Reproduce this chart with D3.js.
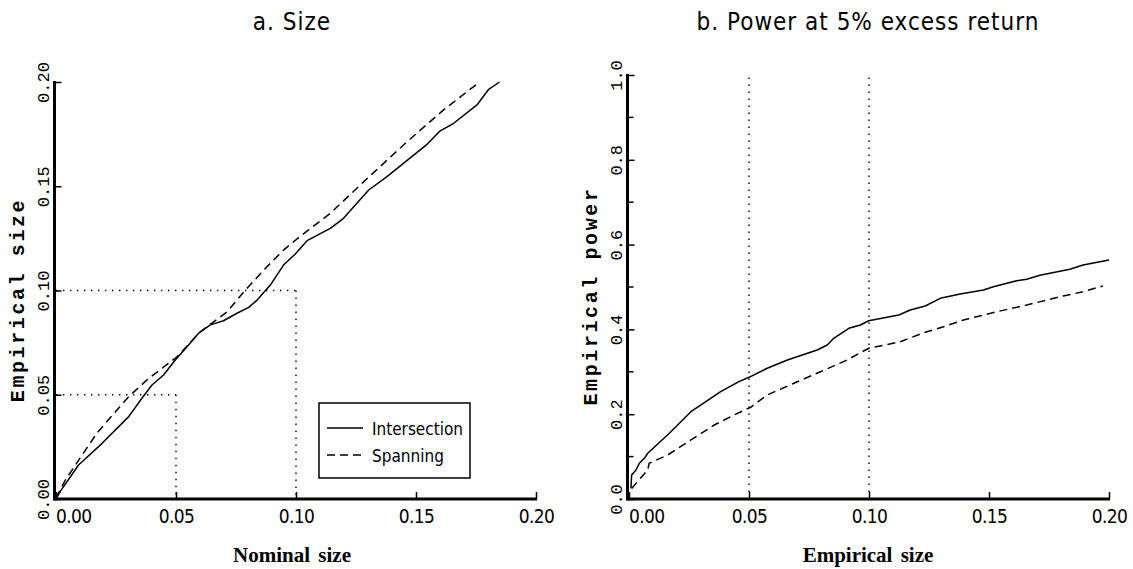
<!DOCTYPE html>
<html>
<head>
<meta charset="utf-8">
<script src="https://cdn.jsdelivr.net/npm/d3@7"></script>
<style>
  body { margin: 0; background: #fff; }
  svg { display: block; }
  .narrow { font-family: 'DejaVu Sans Condensed', 'DejaVu Sans', sans-serif; font-stretch: condensed; }
</style>
</head>
<body>
<script>
// Panel a: nominal size vs empirical size
const intersectionSize = [
  [0, 0], [0.002, 0.004], [0.0094, 0.0163], [0.0192, 0.0267], [0.0303, 0.0395],
  [0.0358, 0.0483], [0.04, 0.0547], [0.0448, 0.0595], [0.0497, 0.0667], [0.0546, 0.073],
  [0.0594, 0.0795], [0.0643, 0.0835], [0.0698, 0.0855], [0.0754, 0.0891], [0.0803, 0.0919],
  [0.0838, 0.0954], [0.0893, 0.1026], [0.0948, 0.1122], [0.0997, 0.1175], [0.1046, 0.1239],
  [0.1143, 0.1298], [0.1198, 0.1346], [0.1303, 0.1482], [0.1379, 0.1546], [0.1546, 0.1701],
  [0.1601, 0.1766], [0.1657, 0.1802], [0.1754, 0.189], [0.1803, 0.1965], [0.1848, 0.2]
];
const spanningSize = [
  [0, 0.0005], [0.0039, 0.0091], [0.0101, 0.0197], [0.0171, 0.0317], [0.0303, 0.0491],
  [0.0379, 0.0571], [0.0504, 0.0682], [0.0601, 0.0802], [0.0713, 0.0898], [0.0789, 0.1002],
  [0.0879, 0.1114], [0.0948, 0.1194], [0.1018, 0.126], [0.1046, 0.1285], [0.1143, 0.137],
  [0.1275, 0.1514], [0.1463, 0.1714], [0.1615, 0.1866], [0.1765, 0.2]
];

// Panel b: empirical size vs power at 5% excess return
const intersectionPower = [
  [0.0008, 0.025], [0.0011, 0.0566], [0.0029, 0.0684], [0.0043, 0.0842], [0.0064, 0.096],
  [0.0078, 0.1078], [0.0168, 0.155], [0.0258, 0.2059], [0.0382, 0.2531], [0.0458, 0.2767],
  [0.05, 0.287], [0.0576, 0.3083], [0.066, 0.3278], [0.0784, 0.3514], [0.0826, 0.3632],
  [0.0853, 0.379], [0.0916, 0.4026], [0.0964, 0.4104], [0.0999, 0.4205], [0.1124, 0.434],
  [0.1172, 0.4458], [0.1234, 0.4552], [0.1297, 0.4733], [0.138, 0.4835], [0.1477, 0.4929],
  [0.1518, 0.5007], [0.1615, 0.5149], [0.1657, 0.5182], [0.1712, 0.5276], [0.1837, 0.5417],
  [0.1892, 0.5519], [0.2, 0.5637]
];
const spanningPower = [
  [0.0011, 0.025], [0.0078, 0.0684], [0.0084, 0.0842], [0.0161, 0.1038], [0.0258, 0.1392],
  [0.0355, 0.1745], [0.0438, 0.1981], [0.0507, 0.2163], [0.0576, 0.2453], [0.0687, 0.2729],
  [0.0798, 0.3002], [0.0909, 0.3278], [0.0964, 0.345], [0.0999, 0.3554], [0.1131, 0.371],
  [0.1221, 0.3908], [0.1311, 0.4064], [0.1394, 0.4222], [0.1533, 0.4418], [0.1657, 0.4575],
  [0.1809, 0.4788], [0.1892, 0.4889], [0.1975, 0.5024]
];

const xTicks = [0, 0.05, 0.1, 0.15, 0.2];
const sizeTicks = [0, 0.05, 0.1, 0.15, 0.2];
const powerTicks = [0, 0.2, 0.4, 0.6, 0.8, 1.0];
const powerMinorTicks = [0.1, 0.3, 0.5, 0.7, 0.9];
const legendLabels = ["Intersection", "Spanning"];

const mono = "'Liberation Mono', 'DejaVu Sans Mono', monospace";
const serif = "'Liberation Serif', 'DejaVu Serif', serif";

const width = 1133, height = 569;

const svg = d3.select("body").append("svg")
  .attr("width", width)
  .attr("height", height)
  .attr("viewBox", [0, 0, width, height]);

function drawPanel(opts) {
  const x = d3.scaleLinear().domain([0, 0.2]).range(opts.xRange);
  const y = d3.scaleLinear().domain(opts.yDomain).range(opts.yRange);
  const g = svg.append("g");
  const axisX = opts.xRange[0] - 1.5;
  const base = opts.yRange[0];

  // title
  g.append("text")
    .attr("class", "narrow")
    .attr("x", opts.titleX)
    .attr("y", 30)
    .attr("text-anchor", "middle")
    .style("font-size", "24px")
    .style("letter-spacing", "1px")
    .text(opts.title);

  // reference lines (dotted)
  g.append("g").selectAll("line")
    .data(opts.refLines)
    .join("line")
    .attr("x1", (d) => x(d[0]))
    .attr("y1", (d) => y(d[1]))
    .attr("x2", (d) => x(d[2]))
    .attr("y2", (d) => y(d[3]))
    .attr("stroke", "#000")
    .attr("stroke-width", 1.4)
    .attr("stroke-dasharray", "1.4,5.6");

  // x axis
  const xAxis = g.append("g")
    .attr("transform", `translate(0,${base})`)
    .call(d3.axisBottom(x).tickValues(xTicks).tickFormat(d3.format(".2f"))
      .tickSize(-7).tickSizeOuter(0).tickPadding(11));
  xAxis.select(".domain").remove();
  xAxis.selectAll(".tick line").attr("stroke-width", 1.5);
  xAxis.selectAll(".tick text")
    .attr("class", "narrow")
    .style("font-size", "19px")
    .style("letter-spacing", "-0.6px")
    .attr("fill", "#000")
    .attr("text-anchor", (d, i) => (i === 0 ? "start" : "middle"))
    .attr("x", (d, i) => (i === 0 ? axisX - x(0) + 1 : 0));

  // y axis
  const yAxis = g.append("g")
    .attr("transform", `translate(${axisX},0)`)
    .call(d3.axisLeft(y).tickValues(opts.yTicks).tickFormat(d3.format(opts.yFormat))
      .tickSize(-7).tickSizeOuter(0));
  yAxis.select(".domain").remove();
  yAxis.selectAll(".tick line").attr("stroke-width", 1.5);
  yAxis.selectAll(".tick text")
    .attr("transform", "rotate(-90)")
    .attr("x", 0)
    .attr("y", -6)
    .attr("dy", 0)
    .attr("text-anchor", "middle")
    .attr("fill", "#000")
    .style("font-family", mono)
    .style("font-size", "17px");

  if (opts.minorTicks) {
    g.append("g").selectAll("line")
      .data(opts.minorTicks)
      .join("line")
      .attr("x1", axisX)
      .attr("x2", axisX + 6)
      .attr("y1", (d) => y(d))
      .attr("y2", (d) => y(d))
      .attr("stroke", "#000")
      .attr("stroke-width", 1.5);
  }

  // thick axis lines
  g.append("line")
    .attr("x1", axisX).attr("x2", x(0.2) + 1)
    .attr("y1", base).attr("y2", base)
    .attr("stroke", "#000").attr("stroke-width", 3);
  g.append("line")
    .attr("x1", axisX).attr("x2", axisX)
    .attr("y1", base + 1.5).attr("y2", y(opts.yDomain[1]) - 1)
    .attr("stroke", "#000").attr("stroke-width", 3);

  // axis titles
  g.append("text")
    .attr("transform", `translate(${axisX - 31},${opts.yTitleY}) rotate(-90)`)
    .attr("text-anchor", "middle")
    .style("font-family", mono)
    .style("font-weight", "bold")
    .style("font-size", "20px")
    .style("letter-spacing", "2.6px")
    .text(opts.yTitle);

  g.append("text")
    .attr("x", opts.titleX)
    .attr("y", 562)
    .attr("text-anchor", "middle")
    .style("font-family", serif)
    .style("font-weight", "bold")
    .style("font-size", "21px")
    .style("word-spacing", "3px")
    .text(opts.xTitle);

  // series
  const line = d3.line().x((d) => x(d[0])).y((d) => y(d[1]));
  g.append("path")
    .datum(opts.solid)
    .attr("d", line)
    .attr("fill", "none")
    .attr("stroke", "#000")
    .attr("stroke-width", 1.5)
    .attr("stroke-linejoin", "round");
  g.append("path")
    .datum(opts.dashed)
    .attr("d", line)
    .attr("fill", "none")
    .attr("stroke", "#000")
    .attr("stroke-width", 1.5)
    .attr("stroke-dasharray", "8,5");

  return { g, x, y };
}

const a = drawPanel({
  title: "a. Size",
  titleX: 292,
  xRange: [56, 536],
  yDomain: [0, 0.2],
  yRange: [499, 82],
  yTicks: sizeTicks,
  yFormat: ".2f",
  yTitle: "Empirical size",
  yTitleY: 300,
  xTitle: "Nominal size",
  refLines: [[0, 0.1, 0.1, 0.1], [0.1, 0.1, 0.1, 0], [0, 0.05, 0.05, 0.05], [0.05, 0.05, 0.05, 0]],
  solid: intersectionSize,
  dashed: spanningSize
});

drawPanel({
  title: "b. Power at 5% excess return",
  titleX: 868,
  xRange: [629, 1109],
  yDomain: [0, 1],
  yRange: [499, 75],
  yTicks: powerTicks,
  minorTicks: powerMinorTicks,
  yFormat: ".1f",
  yTitle: "Empirical power",
  yTitleY: 296,
  xTitle: "Empirical size",
  refLines: [[0.05, 0, 0.05, 1], [0.1, 0, 0.1, 1]],
  solid: intersectionPower,
  dashed: spanningPower
});

// legend in panel a
const legend = a.g.append("g").attr("transform", "translate(319,403)");
legend.append("rect")
  .attr("width", 151)
  .attr("height", 75)
  .attr("fill", "#fff")
  .attr("stroke", "#000")
  .attr("stroke-width", 1.5);
const item = legend.selectAll("g.item")
  .data(legendLabels)
  .join("g")
  .attr("class", "item")
  .attr("transform", (d, i) => `translate(0,${25 + i * 27})`);
item.append("line")
  .attr("x1", 8).attr("x2", 44)
  .attr("stroke", "#000")
  .attr("stroke-width", 1.5)
  .attr("stroke-dasharray", (d, i) => (i === 0 ? null : "8,5"));
item.append("text")
  .attr("class", "narrow")
  .attr("x", 53)
  .attr("y", 7)
  .style("font-size", "17px")
  .text((d) => d);
</script>
</body>
</html>
